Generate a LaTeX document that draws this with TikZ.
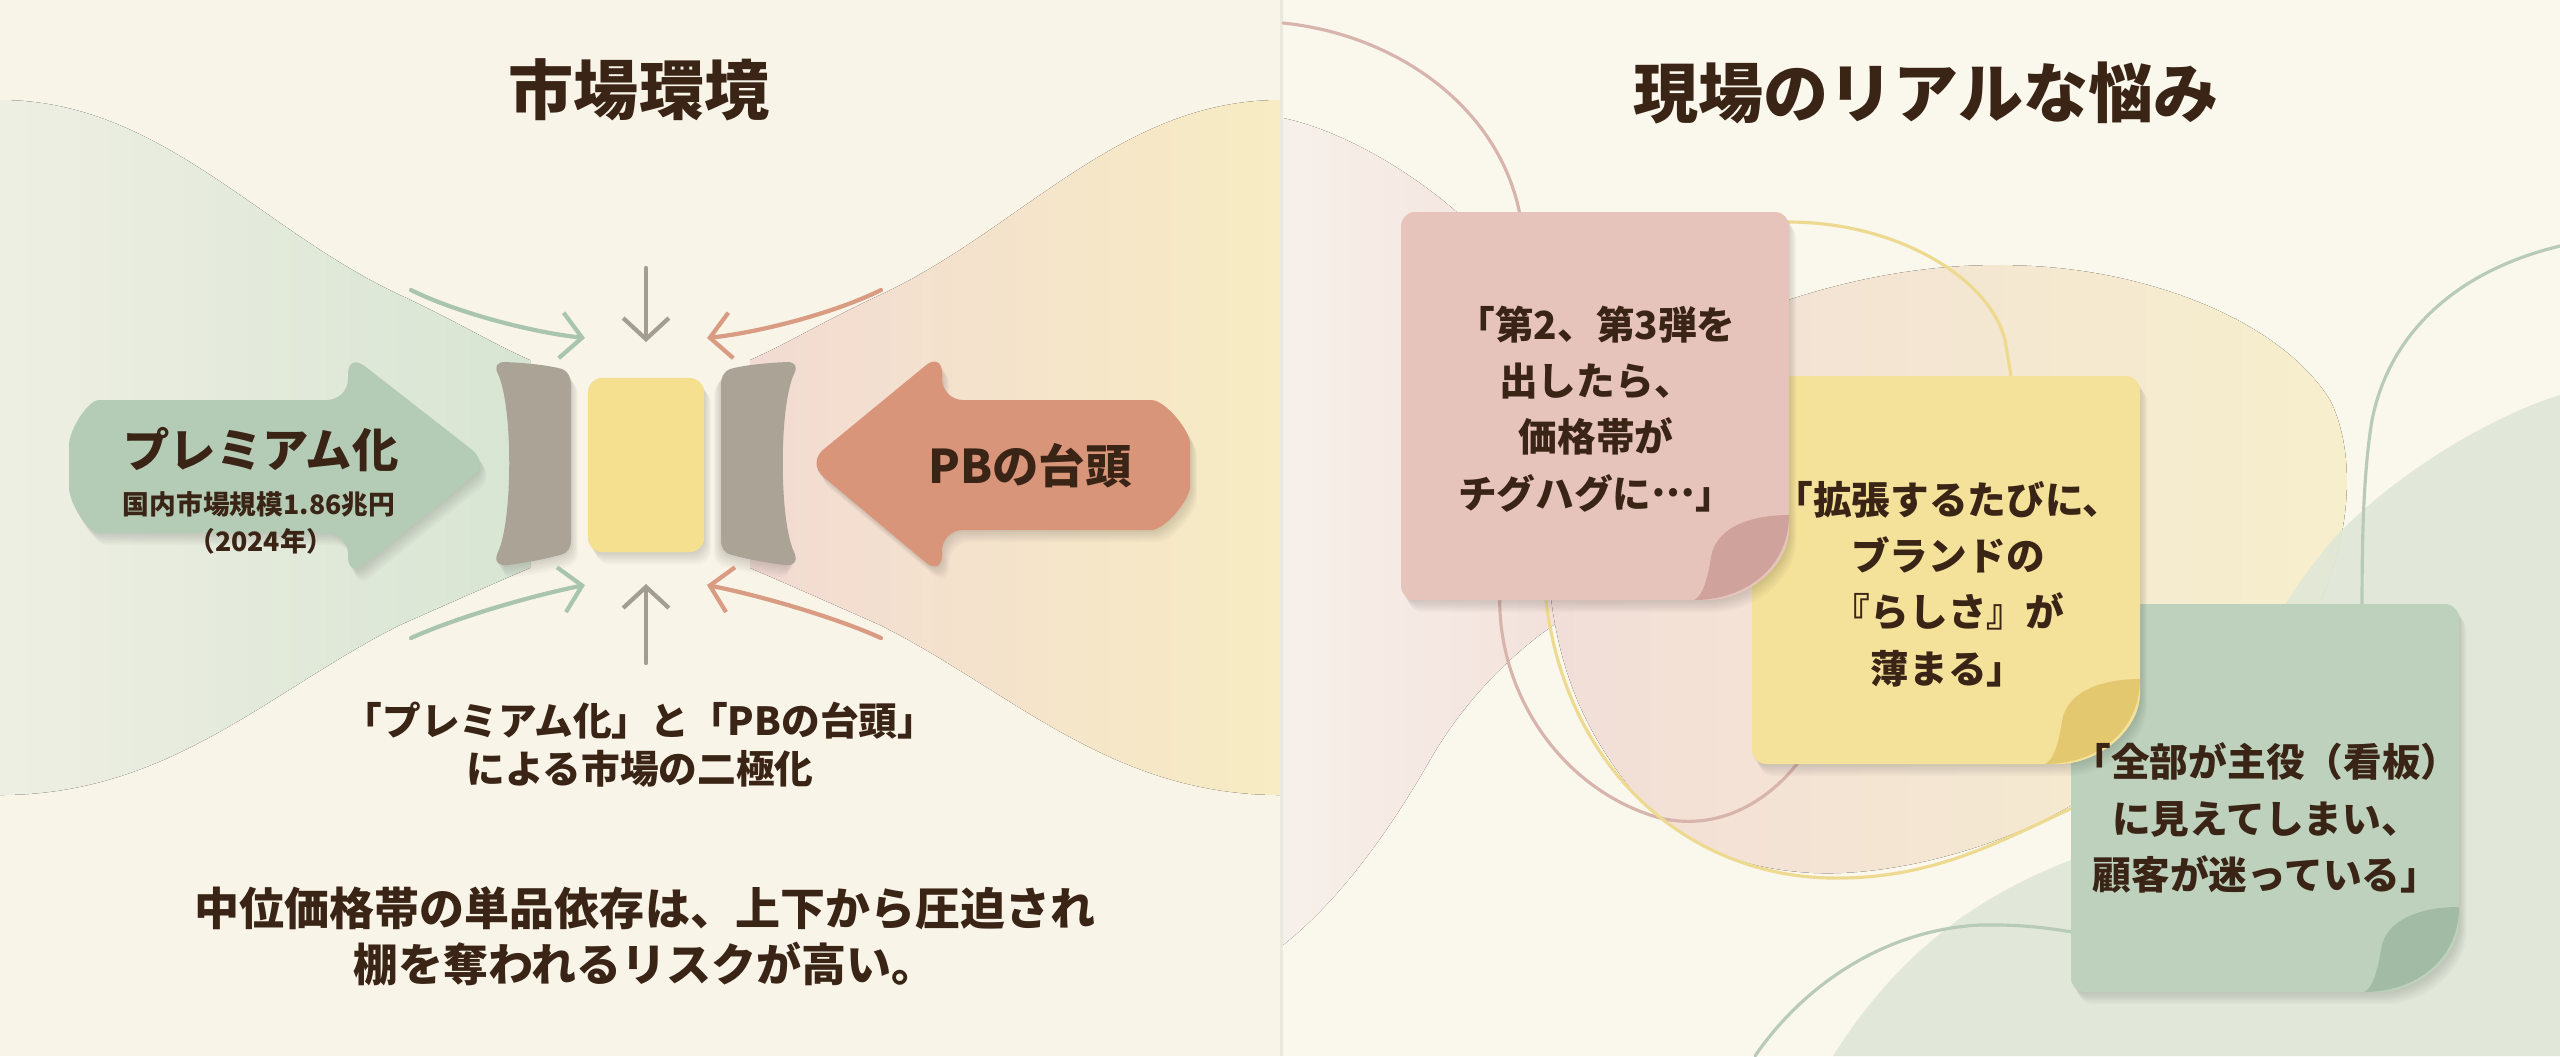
\documentclass[tikz,border=0pt]{standalone}
\usepackage{fontspec}
\setmainfont{Noto Sans CJK JP}
\usetikzlibrary{arrows.meta}

\definecolor{paper}{HTML}{F8F4E8}
\definecolor{paperR}{HTML}{FAF7EC}
\definecolor{ink}{HTML}{3A2416}
\definecolor{sage}{HTML}{B4CCB5}
\definecolor{terra}{HTML}{D9957A}
\definecolor{taupe}{HTML}{ABA396}
\definecolor{butter}{HTML}{F4E08F}
\definecolor{sagethin}{HTML}{A9C4AF}
\definecolor{terrathin}{HTML}{D99B82}
\definecolor{taupethin}{HTML}{A49D91}
\definecolor{bandgreenL}{HTML}{EEEFE3}
\definecolor{bandgreenR}{HTML}{D8E5D3}
\definecolor{bandpink}{HTML}{F2DBD3}
\definecolor{bandyellow}{HTML}{F7ECC3}
\definecolor{notepink}{HTML}{E6C4BC}
\definecolor{notepinkcurl}{HTML}{CFA39C}
\definecolor{noteyellow}{HTML}{F4E29A}
\definecolor{noteyellowcurl}{HTML}{E3C870}
\definecolor{notegreen}{HTML}{BDD1BD}
\definecolor{notegreencurl}{HTML}{A2BBA4}
\definecolor{blobpink}{HTML}{F2DED8}
\definecolor{blobpinkfade}{HTML}{F7F0EA}
\definecolor{blobyellow}{HTML}{F6EFCC}
\definecolor{blobgreen}{HTML}{E0E7D7}
\definecolor{linepink}{HTML}{D7B4AC}
\definecolor{lineyellow}{HTML}{EDDA90}
\definecolor{linegreen}{HTML}{B7CBB8}

% bong mo: ve lai hinh nhieu lan, lech xuong duoi
\newcommand{\dropshade}[1]{\foreach \d in {1,...,6}{\fill[black, opacity=0.022, shift={({1.2*\d},{2*\d})}] #1;}}

% giay note: #1 trai, #2 tren, #3 mau, #4 mau goc gap
\newcommand{\stickynote}[4]{%
  \def\notebody{[rounded corners=4pt] (#1,{#2+200}) -- (#1,#2) -- ({#1+388},#2) -- ({#1+388},{#2+303})
    .. controls ({#1+388},{#2+355}) and ({#1+345},{#2+388}) .. ({#1+293},{#2+388}) -- (#1,{#2+388}) -- cycle}%
  \dropshade{\notebody}
  \fill[#3] \notebody;
  \fill[#4] ({#1+388},{#2+303}) .. controls ({#1+350},{#2+303}) and ({#1+315},{#2+315}) .. ({#1+310},{#2+345})
    .. controls ({#1+306},{#2+372}) and ({#1+300},{#2+385}) .. ({#1+293},{#2+388})
    .. controls ({#1+345},{#2+388}) and ({#1+388},{#2+355}) .. ({#1+388},{#2+303}) -- cycle;
}

\begin{document}
\begin{tikzpicture}[x=0.01cm, y=-0.01cm, line join=round, line cap=round,
  ttl/.style={font=\fontsize{18.5}{22}\selectfont\bfseries, text=ink, inner sep=0},
  bigtxt/.style={font=\fontsize{13.2}{16}\selectfont\bfseries, text=ink, inner sep=0},
  subtxt/.style={font=\fontsize{7.6}{9}\selectfont\bfseries, text=ink, inner sep=0},
  captxt/.style={font=\fontsize{11}{13.7}\selectfont\bfseries, text=ink, align=center, inner sep=0},
  keytxt/.style={font=\fontsize{12.8}{15.9}\selectfont\bfseries, text=ink, align=center, inner sep=0},
  notetxt/.style={font=\fontsize{11}{16}\selectfont\bfseries, text=ink, align=center, inner sep=0},
  squeeze/.style={line width=1.2pt, -{Straight Barb[length=6pt,width=13pt]}},
  hairline/.style={line width=0.9pt}]
\useasboundingbox (0,0) rectangle (2560,1056);

% nen
\fill[paper] (0,0) rectangle (1280,1056);
\fill[paperR] (1280,0) rectangle (2560,1056);

%%%%% ben trai: thi truong
% dai mau hai ben
\fill[left color=bandgreenL, right color=bandgreenR] (0,100) .. controls (160,100) and (260,230) .. (400,295)
  .. controls (460,323) and (495,345) .. (530,360) -- (530,568) .. controls (490,585) and (450,603) .. (400,625)
  .. controls (270,690) and (170,795) .. (0,795) -- cycle;
\fill[left color=bandpink, right color=bandyellow] (1280,100) .. controls (1120,100) and (1020,230) .. (880,295)
  .. controls (820,323) and (785,345) .. (750,360) -- (750,568) .. controls (790,585) and (830,603) .. (880,625)
  .. controls (1010,690) and (1110,795) .. (1280,795) -- cycle;

% hai mui ten lon
\def\premshape{[rounded corners=6pt] (348,400) -- (120,400) .. controls (88,400) and (69,430) .. (69,466)
  .. controls (69,503) and (88,533) .. (120,533) -- (348,533) -- (348,578) -- (489,463) -- (348,353) -- cycle}
\def\pbshape{[rounded corners=6pt] (942,400) -- (1130,400) .. controls (1165,400) and (1190,430) .. (1190,465)
  .. controls (1190,500) and (1165,530) .. (1130,530) -- (942,530) -- (942,576) -- (807,463) -- (942,352) -- cycle}
\dropshade{\premshape}
\fill[sage] \premshape;
\dropshade{\pbshape}
\fill[terra] \pbshape;
\node[bigtxt] (premTxt) at (261,450) {プレミアム化};
\node[subtxt] (premSize) at (259,504) {国内市場規模1.86兆円};
\node[subtxt] (premYear) at (261,541) {（2024年）};
\node[bigtxt] (pbTxt) at (1030,466) {PBの台頭};

% ke hai ben va san pham o giua
\def\shelfshape{(505,362) .. controls (530,363) and (552,366) .. (562,369) .. controls (569,372) and (571,378) .. (571,386)
  -- (571,540) .. controls (571,548) and (568,553) .. (560,555) .. controls (545,559) and (525,563) .. (507,565)
  .. controls (497,566) and (494,560) .. (498,552) .. controls (513,520) and (513,406) .. (498,374)
  .. controls (494,366) and (497,362) .. (505,362) -- cycle}
\dropshade{\shelfshape}
\fill[taupe] \shelfshape;
\begin{scope}[shift={(1292,0)}, xscale=-1]
\dropshade{\shelfshape}
\fill[taupe] \shelfshape;
\end{scope}
\def\boxshape{[rounded corners=4pt] (588,378) rectangle (704,552)}
\dropshade{\boxshape}
\node[fill=butter, rounded corners=4pt, minimum width=1.16cm, minimum height=1.74cm, inner sep=0] (midbox) at (646,465) {};

% mui ten ep
\coordinate (tl0) at (411,290);  \coordinate (tl1) at (585,338);
\coordinate (tr0) at (881,290);  \coordinate (tr1) at (707,338);
\coordinate (bl0) at (411,638);  \coordinate (bl1) at (585,585);
\coordinate (br0) at (881,638);  \coordinate (br1) at (707,585);
\coordinate (tc0) at (646,268);  \coordinate (tc1) at (646,342);
\coordinate (bc0) at (646,663);  \coordinate (bc1) at (646,584);
\draw[squeeze, sagethin] (tl0) .. controls (455,312) and (530,332) .. (tl1);
\draw[squeeze, sagethin] (bl0) .. controls (455,618) and (530,596) .. (bl1);
\draw[squeeze, terrathin] (tr0) .. controls (837,312) and (762,332) .. (tr1);
\draw[squeeze, terrathin] (br0) .. controls (837,618) and (762,596) .. (br1);
\draw[squeeze, taupethin] (tc0) -- (tc1);
\draw[squeeze, taupethin] (bc0) -- (bc1);

% chu
\node[ttl] (ttlL) at (639,90) {市場環境};
\node[captxt] (capTxt) at (640,745) {「プレミアム化」と「PBの台頭」\\による市場の二極化};
\node[keytxt] (keyTxt) at (645,936) {中位価格帯の単品依存は、上下から圧迫され\\棚を奪われるリスクが高い。};

%%%%% ben phai: noi lo
\fill[paperR!94!black] (1280,0) rectangle (1283,1056);
% mang mau nen
\fill[left color=blobpinkfade, right color=blobpink] (1283,118) .. controls (1340,130) and (1410,170) .. (1460,215)
  -- (1620,590) .. controls (1540,620) and (1470,690) .. (1430,760) .. controls (1390,830) and (1340,900) .. (1283,945) -- cycle;
\fill[left color=blobpink, right color=blobyellow] (1700,320) -- (1788,300) .. controls (1880,270) and (1960,262) .. (2032,266)
  .. controls (2150,272) and (2280,320) .. (2330,400) .. controls (2360,460) and (2350,560) .. (2300,640)
  -- (2080,800) .. controls (2000,850) and (1880,880) .. (1800,872) .. controls (1730,866) and (1680,840) .. (1640,800)
  .. controls (1590,740) and (1560,680) .. (1550,590) -- cycle;
\fill[blobgreen, opacity=.9] (2560,395) .. controls (2480,420) and (2390,480) .. (2336,536)
  .. controls (2290,590) and (2260,640) .. (2240,700) -- (2071,860) .. controls (1980,895) and (1900,950) .. (1833,1056)
  -- (2560,1056) -- cycle;
% duong manh
\draw[hairline, linepink] (1283,23) .. controls (1400,35) and (1500,110) .. (1520,215) -- (1500,590)
  .. controls (1495,690) and (1560,790) .. (1660,818) .. controls (1720,832) and (1770,800) .. (1800,760);
\draw[hairline, lineyellow] (1700,240) -- (1788,222) .. controls (1900,222) and (1990,280) .. (2005,340) -- (2015,400);
\draw[hairline, lineyellow] (1545,590) .. controls (1560,760) and (1680,875) .. (1830,878)
  .. controls (1940,880) and (2010,835) .. (2090,800);
\draw[hairline, linegreen] (2560,246) .. controls (2460,270) and (2390,330) .. (2372,420)
  .. controls (2362,480) and (2362,560) .. (2362,620);
\draw[hairline, linegreen] (1755,1056) .. controls (1800,990) and (1880,930) .. (1980,925)
  .. controls (2030,924) and (2060,930) .. (2090,935);

% giay note
\stickynote{2071}{604}{notegreen}{notegreencurl}
\stickynote{1752}{376}{noteyellow}{noteyellowcurl}
\stickynote{1401}{212}{notepink}{notepinkcurl}

\node[ttl] (ttlR) at (1926,93) {現場のリアルな悩み};
\node[notetxt] (noteA) at (1596,409) {「第2、第3弾を\\出したら、\\価格帯が\\チグハグに\raisebox{.3em}{…}」};
\node[notetxt] (noteB) at (1948,584) {「拡張するたびに、\\ブランドの\\『らしさ』が\\薄まる」};
\node[notetxt] (noteC) at (2266,818) {「全部が主役（看板）\\に見えてしまい、\\顧客が迷っている」};
\end{tikzpicture}
\end{document}
